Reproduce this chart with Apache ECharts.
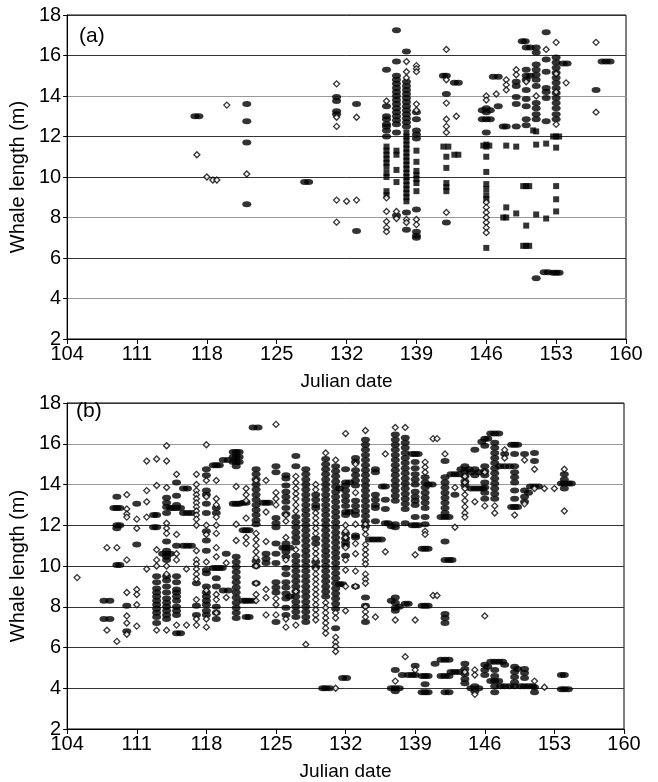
<!DOCTYPE html>
<html>
<head>
<meta charset="utf-8">
<script src="https://cdn.jsdelivr.net/npm/echarts@6/dist/echarts.min.js"></script>
<style>
  html, body { margin: 0; padding: 0; background: #fff; }
  #chart { width: 658px; height: 782px; }
</style>
</head>
<body>
<div id="chart"></div>
<script>
// x ticks (Julian date) shared by both panels
const xTicks = [104, 111, 118, 125, 132, 139, 146, 153, 160]

// panel (a): [day, [lengths...]]
const aOpen = [
  [117, [11.1]], [118, [10.0]], [118.6, [9.85]], [119, [9.85]], [120, [13.55]], [122, [10.15]],
  [131, [14.6, 12.95, 12.5, 8.86, 7.77]], [132, [8.8]], [133, [12.95, 8.86]],
  [136, [13.75, 8.97, 8.3, 7.8, 7.5, 7.3]], [137, [8.3, 7.95]],
  [138, [15.7, 15.2, 14.9, 7.9, 7.75]], [139, [15.5, 15.35, 15.2, 13.6, 13.3, 7.9, 7.65]],
  [142, [16.3, 14.8, 13.65, 12.85, 12.5, 12.2, 8.25]], [143, [13.0]],
  [146, [14.0, 13.8, 8.75, 8.5, 8.25, 8.0, 7.75, 7.5, 7.25]], [147, [14.1]],
  [148, [14.8, 14.55, 14.3]], [149, [15.3, 15.05]], [150, [14.7]], [151, [14.0]],
  [152, [16.3]], [153, [16.65, 15.1, 14.2, 12.6]], [154, [14.65]], [157, [16.65, 13.2]]
]
const aFilled = [
  [116.8, [13.0]], [117.2, [13.0]], [122, [13.6, 12.75, 11.7, 8.65]],
  [127.8, [9.75]], [128.2, [9.75]],
  [131, [13.95, 13.75, 13.25, 13.1]], [133, [13.6, 7.33]],
  [136, [15.3, 13.5, 13.0, 12.85, 12.6, 12.5, 12.3, 12.0]],
  [137, [17.25, 15.7, 15.0, 14.8, 14.6, 14.4, 14.2, 14.0, 13.8, 13.6, 13.4, 13.2, 13.0, 12.8, 12.6, 12.2, 8.1]],
  [138, [16.2, 14.7, 14.5, 14.3, 14.1, 13.9, 13.7, 13.5, 13.3, 13.1, 12.9, 12.7, 12.5, 8.25, 7.4]],
  [139, [13.2, 12.85, 12.3, 12.1, 11.9, 8.4, 7.3, 7.1, 7.0]],
  [141.7, [15.0]], [142, [15.0, 14.1, 7.75]], [142.8, [14.65]], [143.2, [14.65]],
  [145.6, [13.3, 12.85]], [146, [13.4, 13.2, 12.85, 12.2]], [146.4, [13.3, 12.85]],
  [146.7, [14.95]], [147.2, [14.95, 13.5]], [147.7, [12.5]], [148, [12.5]],
  [149, [14.7, 14.5, 13.95, 13.6, 12.5]], [149.6, [16.7]], [149.9, [16.7]],
  [150, [16.4, 15.3, 15.0, 14.8, 14.3, 13.85, 13.5, 12.85, 12.55]], [150.4, [16.4, 15.0]],
  [151, [16.4, 16.15, 15.55, 15.3, 15.05, 14.8, 14.5, 13.65, 13.4, 13.1, 12.85, 5.0]],
  [152, [17.15, 15.8, 15.2, 14.4, 14.2, 13.9, 12.75]], [151.8, [5.3]], [152.2, [5.3]],
  [153, [15.9, 15.65, 15.4, 15.15, 14.9, 14.65, 14.4, 14.15, 13.9, 13.65, 13.4, 13.1, 12.85, 5.27]],
  [152.7, [5.27]], [153.3, [5.27]], [153.7, [15.6]], [154.1, [15.6]],
  [157, [14.3]], [157.6, [15.7]], [158, [15.7]], [158.4, [15.7]]
]
const aSquare = [
  [136, [11.5, 11.3, 11.1, 10.9, 10.7, 10.5, 10.2, 10.0, 9.3, 9.1]],
  [137, [11.3, 11.1, 10.35, 9.75]],
  [138, [12.2, 12.0, 11.8, 11.6, 11.4, 11.2, 11.0, 10.8, 10.6, 10.4, 10.2, 10.0, 9.8, 9.6, 9.4, 9.2, 9.0, 8.8]],
  [139, [11.3, 10.75, 10.3, 10.1, 9.9, 9.7, 9.3]],
  [141.7, [11.5]], [142.2, [11.5]], [142, [11.0, 10.45, 9.7, 9.5, 9.3]], [142.8, [11.1]], [143.2, [11.1]],
  [145.7, [11.55]], [146, [11.6, 11.5, 11.0, 10.25, 9.65, 9.4, 9.1, 8.9, 6.5]], [146.3, [11.55]],
  [148, [11.55, 8.5, 8.0]], [147.7, [8.0]], [149, [11.5, 8.2]],
  [149.7, [9.55, 6.6]], [150, [9.55, 7.6, 6.6]], [150.3, [9.55, 6.6]],
  [150.7, [12.3]], [151, [12.25, 11.6, 8.15]], [152, [11.65, 7.95]],
  [152.7, [12.0]], [153, [12.0, 11.45, 9.55, 8.9, 8.3]], [153.3, [12.0]]
]

// panel (b)
const bOpen = [
  [105, [9.43]], [108, [10.9, 6.85]], [109, [10.9, 6.3]],
  [110, [13.5, 12.8, 12.55, 12.4, 10.3, 8.7, 7.55, 7.2, 6.65]],
  [111, [12.3, 11.85, 8.85, 8.6, 8.1, 7.05]],
  [112, [15.15, 13.7, 13.15, 12.4, 9.85]],
  [113, [15.25, 13.95, 10.8, 10.3, 10.0, 6.85]],
  [114, [15.9, 15.15, 13.85, 12.1, 11.85, 11.6, 10.0, 9.6, 6.85]],
  [115, [14.5, 11.55, 10.6, 10.3, 7.1]], [116, [9.85, 7.1]],
  [117, [14.5, 14.0, 13.7, 13.5, 13.3, 13.1, 12.9, 12.7, 12.5, 12.3, 12.0, 10.75, 10.3, 10.1, 9.85, 9.6, 9.35, 8.35, 7.4, 7.1]],
  [118, [15.95, 14.2, 13.4, 12.0, 11.55, 10.2, 8.8, 7.4, 7.0]],
  [119, [14.2, 13.3, 13.0, 12.4, 12.0, 11.6, 10.9, 10.45, 8.6, 8.35, 7.7]],
  [120, [10.15, 8.45]], [121, [13.9, 12.05, 11.25]],
  [122, [13.8, 13.5, 13.2, 12.35, 11.4, 11.1]],
  [123, [14.2, 11.6, 11.3, 11.0, 10.7, 10.4, 10.0, 9.15, 8.6, 8.3]],
  [124, [14.2, 12.65, 11.2, 8.85, 8.45, 7.6]],
  [125, [16.95, 13.6, 13.3, 13.0, 8.4, 8.1, 7.6]],
  [126, [12.5, 12.2, 11.4, 10.3, 7.4, 7.0]],
  [127, [14.4, 14.1, 13.8, 13.55, 13.3, 13.0, 12.7, 10.8, 8.75, 7.1]],
  [128, [6.15]],
  [129, [14.0, 13.75, 12.6, 12.35, 12.1, 11.85, 11.6, 10.85, 10.6, 10.35, 9.85, 9.6, 9.35, 9.1, 8.85, 8.6, 8.35, 8.1, 7.85, 7.6, 7.35]],
  [130, [15.55, 8.2, 7.95, 7.7, 7.45, 7.2, 6.95, 6.7]],
  [131, [15.2, 7.7, 7.45, 6.5, 6.25, 6.05, 5.8, 4.0]],
  [132, [16.5, 12.0, 11.7, 11.4, 10.9, 10.3, 9.8, 9.0, 7.8]],
  [133, [15.0, 13.6, 12.05, 11.1, 10.6, 9.75, 9.0]],
  [134, [16.65, 12.05, 11.8, 11.55, 11.05, 10.8, 10.55, 10.3, 10.1, 9.6, 9.35, 9.15, 8.0, 7.75, 7.5]],
  [135, [7.5]], [136, [15.5, 10.7]], [137, [16.8, 7.35, 4.35]], [138, [16.8, 5.55]],
  [139, [10.55, 7.35, 4.9]], [140, [15.1, 14.85, 14.6, 11.7, 11.55]],
  [140.8, [16.25, 8.55]], [141.2, [16.25, 8.55]], [142, [15.5]], [143, [13.85, 11.9]],
  [144, [14.4, 14.1, 13.8, 13.5, 13.2, 12.9, 12.6, 12.4, 4.8]],
  [145, [13.15, 4.9, 4.65, 3.7]], [146, [14.6, 12.95, 7.55]], [147, [12.95, 12.6]],
  [148, [15.7, 15.3]], [149, [12.5]], [150, [15.2, 13.05]], [151, [14.75, 13.8, 4.35]],
  [152, [13.8, 4.05]], [153, [13.8]], [154, [14.75, 12.7]]
]
const bFilled = [
  [107.7, [8.3, 7.4]], [108.3, [8.3, 7.4]],
  [108.7, [12.85]], [109, [13.4, 12.85, 12.0, 11.85, 10.05]], [109.3, [12.85, 12.0, 10.05]],
  [110, [8.05, 6.8]], [111, [13.05, 11.05]],
  [112.7, [12.5, 11.9]], [113, [12.5, 11.9, 9.5, 9.2, 8.9, 8.7, 8.5, 8.3, 8.1, 7.9, 7.7, 7.5, 7.2]],
  [113.6, [10.6]],
  [114, [13.35, 13.1, 12.9, 12.6, 11.2, 10.75, 10.6, 10.45, 10.3, 9.5, 9.3, 9.0, 8.7, 8.4, 8.2, 8.0, 7.8, 7.6, 7.4]],
  [114.4, [10.6, 12.85]], [114.7, [12.85]],
  [115, [14.1, 13.45, 13.0, 12.85, 11.0, 9.5, 9.2, 8.85, 8.7, 8.5, 8.3, 8.0, 7.8, 7.6, 6.7]], [115.4, [12.85, 6.7]],
  [115.7, [13.8, 12.6, 11.0]], [116.1, [13.8, 12.6, 11.0]], [116.5, [12.6, 11.0]],
  [117, [9.15, 8.05, 7.6]],
  [118, [14.75, 14.45, 13.7, 13.5, 13.05, 12.6, 11.7, 11.25, 10.75, 9.8, 9.65, 9.0, 8.7, 8.5, 8.3, 8.1, 7.8, 7.6]],
  [118.7, [14.95, 9.9]], [119, [14.95, 12.85, 12.6, 9.9, 9.4, 9.0, 8.0, 7.7, 7.4]], [119.3, [14.95, 9.9]], [119.6, [9.9]],
  [119.7, [15.2, 8.8]], [120, [10.6]], [120.2, [15.2, 8.8]],
  [120.7, [15.6, 15.35, 15.1, 13.05]],
  [121, [15.6, 15.35, 15.1, 14.9, 13.05, 10.45, 10.2, 9.95, 9.7, 9.45, 9.2, 8.95, 8.7, 8.45, 8.2, 7.95, 7.7, 7.45]],
  [121.3, [15.6, 15.35, 15.1, 13.05]],
  [121.7, [13.1, 11.75, 8.3]], [122, [13.1, 11.75, 8.3, 7.5]], [122.3, [11.75, 8.3, 7.5]],
  [122.7, [16.8, 8.3]], [123.2, [16.8]],
  [123, [14.75, 14.5, 14.25, 14.0, 13.75, 13.5, 13.25, 13.0, 12.75, 12.5, 12.25, 12.05, 10.25, 10.0, 9.15]],
  [123.7, [13.1]], [124, [13.1, 10.6, 10.35, 10.15]], [124.3, [13.1]],
  [125, [14.9, 14.6, 12.35, 12.1, 11.9, 11.1, 10.6, 10.15, 9.2, 8.95, 8.7, 7.25]],
  [125.7, [10.9]],
  [126, [14.45, 14.3, 13.95, 13.65, 13.4, 13.15, 12.85, 12.55, 11.1, 10.9, 10.7, 10.45, 9.9, 9.6, 9.2, 8.95, 8.65, 8.4, 7.95, 7.6]],
  [126.4, [10.9, 8.5]],
  [127, [15.4, 14.9, 12.4, 12.15, 11.9, 11.65, 11.4, 11.15, 10.5, 10.25, 10.0, 9.75, 9.5, 9.25, 9.0, 8.75, 8.5, 8.25, 8.0, 7.75, 7.5]],
  [128, [14.75, 14.5, 14.25, 14.0, 13.75, 13.5, 13.25, 13.0, 12.75, 12.5, 12.25, 12.0, 11.75, 11.5, 11.25, 11.0, 10.75, 10.5, 10.25, 10.0, 9.75, 9.5, 9.25, 9.0, 8.75, 8.5, 8.25, 8.0, 7.75, 7.5, 7.25]],
  [129, [13.5, 13.25, 13.0, 12.85, 11.35, 11.1, 10.2, 9.95]],
  [129.7, [4.0]],
  [130, [15.25, 15.0, 14.75, 14.5, 14.25, 14.0, 13.75, 13.5, 13.25, 13.0, 12.75, 12.5, 12.25, 12.0, 11.75, 11.5, 11.25, 11.0, 10.75, 10.5, 10.25, 10.0, 9.75, 9.5, 9.25, 9.0, 8.75, 8.5, 4.0]],
  [130.4, [4.0]],
  [131, [14.9, 14.65, 14.4, 14.15, 13.9, 13.65, 13.4, 13.15, 12.9, 12.65, 12.4, 12.15, 11.9, 11.65, 11.4, 11.15, 10.9, 10.65, 10.4, 10.15, 9.9, 9.65, 9.4, 9.15, 8.9, 8.65, 8.4, 8.15, 7.9, 6.95]],
  [131.4, [13.8, 9.1]], [131.7, [9.1, 4.5]], [132.1, [4.5]],
  [132, [14.75, 14.1, 13.95, 13.7, 13.45, 13.2, 12.95, 12.65, 12.5, 11.6, 11.35, 11.15, 11.0, 10.5]], [132.4, [14.1, 12.65]],
  [133, [15.3, 15.1, 14.7, 14.45, 14.2, 13.95, 13.2, 12.95, 12.7, 12.5, 11.5, 11.4, 9.0]],
  [134, [16.2, 15.95, 15.7, 15.45, 15.2, 14.95, 14.7, 14.45, 14.2, 13.95, 13.7, 13.45, 13.2, 12.95, 12.7, 12.45, 12.2, 11.95, 8.45, 8.05, 7.25]],
  [134.4, [11.3]], [134.8, [11.3]], [135.2, [11.3]], [135.6, [11.3]],
  [135, [14.75, 14.6, 13.5, 13.25, 13.0, 12.85, 12.2]],
  [135.7, [13.9]], [136, [13.9, 13.25, 12.8, 12.1]], [136.3, [12.1]],
  [136.6, [11.95, 8.3, 4.0]],
  [137, [16.45, 16.2, 15.95, 15.7, 15.45, 15.2, 14.95, 14.7, 14.45, 14.2, 13.95, 13.7, 13.45, 13.2, 12.05, 11.9, 8.45, 8.2, 7.95, 7.8, 4.9, 4.0, 3.85]],
  [137.4, [8.0, 4.0]], [137.7, [4.65]],
  [138, [16.3, 16.05, 15.8, 15.55, 15.3, 15.05, 14.8, 14.55, 14.3, 14.05, 13.8, 13.55, 13.3, 13.05, 12.8, 12.1, 8.15]],
  [138.3, [8.15, 4.65]], [138.7, [15.5, 12.0, 4.65]],
  [139, [15.5, 15.1, 14.8, 14.5, 14.25, 14.0, 13.65, 13.4, 13.2, 13.0, 12.4, 12.0, 5.1, 4.65]],
  [139.3, [15.5, 12.0]], [139.7, [10.85, 8.05, 4.6, 3.8]],
  [140, [14.35, 14.1, 13.85, 13.6, 13.35, 13.1, 12.85, 12.4, 12.05, 10.85, 8.05, 4.6, 4.2, 3.8]],
  [140.3, [14.0, 10.85, 8.05, 4.6, 3.8]], [140.7, [14.0]], [141, [5.2]],
  [141.6, [12.4, 5.4, 4.6]],
  [142, [15.15, 14.35, 14.1, 13.85, 13.6, 13.35, 13.1, 12.85, 12.6, 12.4, 11.2, 10.3, 7.65, 7.45, 7.2, 5.4, 4.6, 3.8]],
  [142.4, [12.4, 10.3, 5.4, 4.6, 3.8]], [142.7, [10.3]],
  [142.6, [14.5, 4.8]], [143, [14.5, 13.5, 4.8]], [143.4, [14.5, 4.8]],
  [143.6, [14.75]], [144, [14.9, 14.65, 14.4, 14.15, 13.95, 5.2, 4.95, 4.7, 4.45, 4.25]], [144.4, [14.75]],
  [144.6, [14.6, 13.8, 4.0]], [145, [15.7, 14.75, 14.45, 13.8, 4.1, 3.85]], [145.4, [14.6, 13.8, 4.0]], [145.8, [13.8]],
  [145.7, [16.1]], [146, [16.25, 15.9, 14.9, 14.65, 14.45, 14.1, 13.85, 13.6, 13.3, 5.15, 4.9, 4.65]], [146.3, [16.25, 5.05]],
  [146.6, [16.5, 5.3, 4.35]],
  [147, [16.5, 16.05, 15.8, 15.55, 15.3, 15.05, 14.8, 14.55, 14.3, 14.05, 13.8, 13.55, 13.3, 5.3, 4.9, 4.6, 4.35, 4.1, 3.8]],
  [147.4, [16.5, 5.3, 4.35]], [147.8, [5.3]], [147.5, [14.9]], [147.6, [4.1]],
  [148, [15.5, 14.9, 5.15, 4.1]], [148.5, [14.9, 4.1]],
  [148.7, [15.95, 12.9]], [149, [15.95, 15.5, 14.9, 14.6, 14.35, 14.1, 13.7, 13.3, 12.9, 5.05, 4.8, 4.55, 4.3, 4.1]], [149.3, [15.95, 12.9, 4.95]],
  [149.6, [4.1]], [150, [15.5, 13.7, 13.4, 13.15, 4.95, 4.75, 4.5, 4.1]], [150.4, [13.6, 4.1]], [150.8, [4.1]],
  [150.6, [13.9]], [151, [15.55, 15.15, 13.9, 4.05, 3.8]], [151.4, [13.9]],
  [153.7, [14.05, 4.65, 3.95]], [154, [14.5, 14.25, 14.05, 13.8, 4.65, 3.95]], [154.4, [14.05, 3.95]], [154.7, [14.05]]
]

const toPoints = (cols) => {
  const out = []
  cols.forEach(([day, ys]) => ys.forEach(y => out.push([day, y])))
  return out
}

const FONT = 'Liberation Sans, Arial, sans-serif'

const openStyle = { color: '#fff', borderColor: '#000', borderWidth: 1.3 }
const filledStyle = { color: '#000' }

const makeX = (gridIndex) => ({
  gridIndex,
  type: 'value',
  min: 104,
  max: 160,
  name: 'Julian date',
  nameLocation: 'middle',
  nameGap: 33,
  nameTextStyle: { fontSize: 19, color: '#000', fontFamily: FONT },
  axisLine: { lineStyle: { color: '#000', width: 1 } },
  axisTick: { show: true, inside: false, length: 5, customValues: xTicks, lineStyle: { color: '#000' } },
  axisLabel: { customValues: xTicks, fontSize: 20, color: '#000', fontFamily: FONT, margin: 5 },
  splitLine: { show: false }
})

const makeY = (gridIndex, gridColors) => ({
  gridIndex,
  type: 'value',
  min: 2,
  max: 18,
  interval: 2,
  name: 'Whale length (m)',
  nameLocation: 'middle',
  nameRotate: 90,
  nameGap: 37,
  nameTextStyle: { fontSize: 20, color: '#000', fontFamily: FONT },
  axisLine: { show: true, lineStyle: { color: '#000', width: 1 } },
  axisTick: { show: true, inside: false, length: 4, lineStyle: { color: '#000' } },
  axisLabel: { fontSize: 20, color: '#000', fontFamily: FONT, margin: 6 },
  splitLine: { show: true, lineStyle: { color: gridColors, width: 1 } }
})

const DARK = '#333'
const GRAY = '#999'

const scatter = (idx, data, symbol, size, style, z) => ({
  type: 'scatter',
  xAxisIndex: idx,
  yAxisIndex: idx,
  data,
  symbol,
  symbolSize: size,
  itemStyle: style,
  z,
  silent: true
})

const chart = echarts.init(document.getElementById('chart'))
chart.setOption({
  animation: false,
  backgroundColor: '#fff',
  textStyle: { fontFamily: FONT },
  grid: [
    { left: 67, top: 15, right: 32, bottom: 443, show: true, borderColor: '#000', borderWidth: 1, backgroundColor: 'transparent' },
    { left: 63, top: 403, right: 34, bottom: 45, show: true, borderColor: '#000', borderWidth: 1, backgroundColor: 'transparent' }
  ],
  title: [
    { text: '(a)', left: 74, top: 21, textStyle: { fontSize: 21, fontWeight: 'normal', color: '#000', fontFamily: FONT } },
    { text: '(b)', left: 71, top: 396, textStyle: { fontSize: 21, fontWeight: 'normal', color: '#000', fontFamily: FONT } }
  ],
  xAxis: [makeX(0), makeX(1)],
  yAxis: [
    makeY(0, [DARK, GRAY, DARK, GRAY, DARK, DARK, GRAY, DARK, DARK]),
    makeY(1, [DARK, DARK, DARK, DARK, DARK, DARK, GRAY, GRAY, DARK])
  ],
  series: [
    scatter(0, toPoints(aFilled), 'circle', [9, 6], filledStyle, 2),
    scatter(0, toPoints(aSquare), 'rect', 6, { color: '#000' }, 3),
    scatter(0, toPoints(aOpen), 'diamond', 6, openStyle, 4),
    scatter(1, toPoints(bFilled), 'circle', [9, 6], filledStyle, 2),
    scatter(1, toPoints(bOpen), 'diamond', 6, openStyle, 4)
  ]
})
</script>
</body>
</html>
